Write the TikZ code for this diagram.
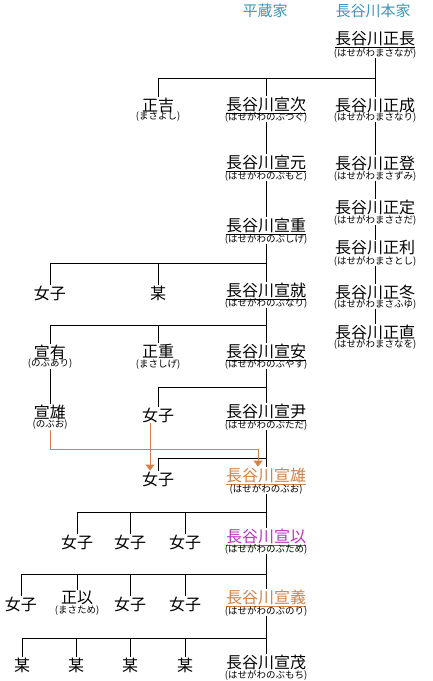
\documentclass[tikz,border=0pt]{standalone}
\usepackage[svgnames]{xcolor}
\usepackage{fontspec}
\setmainfont{Noto Sans CJK JP}
\usepackage{tikz}
\usetikzlibrary{arrows.meta}
\definecolor{ieblue}{RGB}{60,150,185}
\definecolor{yoshi}{RGB}{210,130,70}
\definecolor{murasaki}{RGB}{190,50,190}

\begin{document}
\begin{tikzpicture}[x=1pt, y=-1pt, line width=1pt,
        every node/.append style={inner sep=0.5pt, font=\fontsize{16}{16}\selectfont}]
      \tikzstyle{yomi} = [font=\fontsize{9.5}{10}\selectfont, inner sep=0pt]
      \tikzstyle{head} = [font=\fontsize{15}{15}\selectfont, color=ieblue]
      \tikzstyle{adopt} = [color=yoshi, -{Triangle[width=9pt,length=6pt]}]
      \fill[white] (0,0) rectangle (433,681);
      \useasboundingbox (0,0) rectangle (433,681);

      \node (heizo) [head] at (265,11) {平蔵家};
      \node (honke) [head] at (373,11) {長谷川本家};

      % honke
      \node (masanaga) at (375,40) {\underline{長谷川正長}};
      \node (masanaga-y) [yomi] at (375,53) {(はせがわまさなが)};
      \node (masanari) at (375,105) {長谷川正成};
      \node (masanari-y) [yomi] at (375,117) {(はせがわまさなり)};
      \node (masazumi) at (375,163) {長谷川正登};
      \node (masazumi-y) [yomi] at (375,176) {(はせがわまさずみ)};
      \node (masasada) at (375,207) {長谷川正定};
      \node (masasada-y) [yomi] at (375,220) {(はせがわまささだ)};
      \node (masatoshi) at (375,248) {長谷川正利};
      \node (masatoshi-y) [yomi] at (375,261) {(はせがわまさとし)};
      \node (masafuyu) at (375,292) {長谷川正冬};
      \node (masafuyu-y) [yomi] at (375,304) {(はせがわまさふゆ)};
      \node (masanao) at (375,332) {長谷川正直};
      \node (masanao-y) [yomi] at (375,344) {(はせがわまさなを)};

      % heizo
      \node (masayoshi) at (158,105) {正吉};
      \node (masayoshi-y) [yomi] at (158,117) {(まさよし)};
      \node (nobutsugu) at (266,105) {\underline{長谷川宣次}};
      \node (nobutsugu-y) [yomi] at (266,117) {(はせがわのぶつぐ)};
      \node (nobumoto) at (266,163) {\underline{長谷川宣元}};
      \node (nobumoto-y) [yomi] at (266,176) {(はせがわのぶもと)};
      \node (nobushige) at (266,226) {\underline{長谷川宣重}};
      \node (nobushige-y) [yomi] at (266,239) {(はせがわのぶしげ)};
      \node (nyoshi1) at (50,293) {女子};
      \node (bou1) at (158,293) {某};
      \node (nobunari) at (266,291) {\underline{長谷川宣就}};
      \node (nobunari-y) [yomi] at (266,303) {(はせがわのぶなり)};
      \node (nobuari) at (50,352) {宣有};
      \node (nobuari-y) [yomi] at (50,364) {(のぶあり)};
      \node (masashige) at (158,351) {正重};
      \node (masashige-y) [yomi] at (158,365) {(まさしげ)};
      \node (nobuyasu) at (266,352) {\underline{長谷川宣安}};
      \node (nobuyasu-y) [yomi] at (266,364) {(はせがわのぶやす)};
      \node (nobuoA) at (50,412) {宣雄};
      \node (nobuoA-y) [yomi] at (50,425) {(のぶお)};
      \node (nyoshi2) at (158,415) {女子};
      \node (nobutada) at (266,412) {\underline{長谷川宣尹}};
      \node (nobutada-y) [yomi] at (266,425) {(はせがわのぶただ)};
      \node (nyoshi3) at (158,479) {女子};
      \node (nobuo) [text=yoshi] at (266,476) {\underline{長谷川宣雄}};
      \node (nobuo-y) [yomi] at (266,489) {(はせがわのぶお)};
      \node (nyoshi4) at (77,542) {女子};
      \node (nyoshi5) at (130,542) {女子};
      \node (nyoshi6) at (185,542) {女子};
      \node (nobutame) [text=murasaki] at (266,537) {\underline{長谷川宣以}};
      \node (nobutame-y) [yomi] at (266,549) {(はせがわのぶため)};
      \node (nyoshi7) at (21,604) {女子};
      \node (masatame) at (77,598) {正以};
      \node (masatame-y) [yomi] at (77,611) {(まさため)};
      \node (nyoshi8) at (130,604) {女子};
      \node (nyoshi9) at (185,604) {女子};
      \node (nobunori) [text=yoshi] at (266,598) {\underline{長谷川宣義}};
      \node (nobunori-y) [yomi] at (266,611) {(はせがわのぶのり)};
      \node (bou2) at (22,665) {某};
      \node (bou3) at (76,665) {某};
      \node (bou4) at (130,665) {某};
      \node (bou5) at (185,665) {某};
      \node (nobumochi) at (266,662) {長谷川宣茂};
      \node (nobumochi-y) [yomi] at (266,675) {(はせがわのぶもち)};

      \coordinate (j1) at (375,78);
      \coordinate (j2) at (266,263);
      \coordinate (j3) at (266,325);
      \coordinate (j4) at (266,387);
      \coordinate (j5) at (266,458);
      \coordinate (j6) at (266,512);
      \coordinate (j7) at (266,574);
      \coordinate (j8) at (266,638);
      \coordinate (turn) at (258,449);

      \draw (masanaga-y) -- (masanari) (masanari-y) -- (masazumi)
        (masazumi-y) -- (masasada) (masasada-y) -- (masatoshi)
        (masatoshi-y) -- (masafuyu) (masafuyu-y) -- (masanao);
      \draw (nobutsugu-y) -- (nobumoto) (nobumoto-y) -- (nobushige)
        (nobushige-y) -- (nobunari) (nobunari-y) -- (nobuyasu)
        (nobuyasu-y) -- (nobutada) (nobutada-y) -- (nobuo)
        (nobuo-y) -- (nobutame) (nobutame-y) -- (nobunori)
        (nobunori-y) -- (nobumochi);
      \draw (j1) -| (masayoshi) (j1) -| (nobutsugu);
      \draw (j2) -| (nyoshi1) (j2) -| (bou1);
      \draw (j3) -| (nobuari) (j3) -| (masashige);
      \draw (j4) -| (nyoshi2);
      \draw (nobuari-y) -- (nobuoA);
      \draw (j5) -| (nyoshi3);
      \draw (j6) -| (nyoshi4) (j6) -| (nyoshi5) (j6) -| (nyoshi6);
      \draw (j7) -| (nyoshi7) (j7) -| (masatame) (j7) -| (nyoshi8) (j7) -| (nyoshi9);
      \draw (j8) -| (bou2) (j8) -| (bou3) (j8) -| (bou4) (j8) -| (bou5);

      \draw [adopt] (nobuoA-y) |- (turn) -- (turn |- nobuo.north);
      \draw [adopt] ([xshift=-8pt]nyoshi2.south) -- ([xshift=-8pt]nyoshi3.north);
    \end{tikzpicture}
\end{document}
